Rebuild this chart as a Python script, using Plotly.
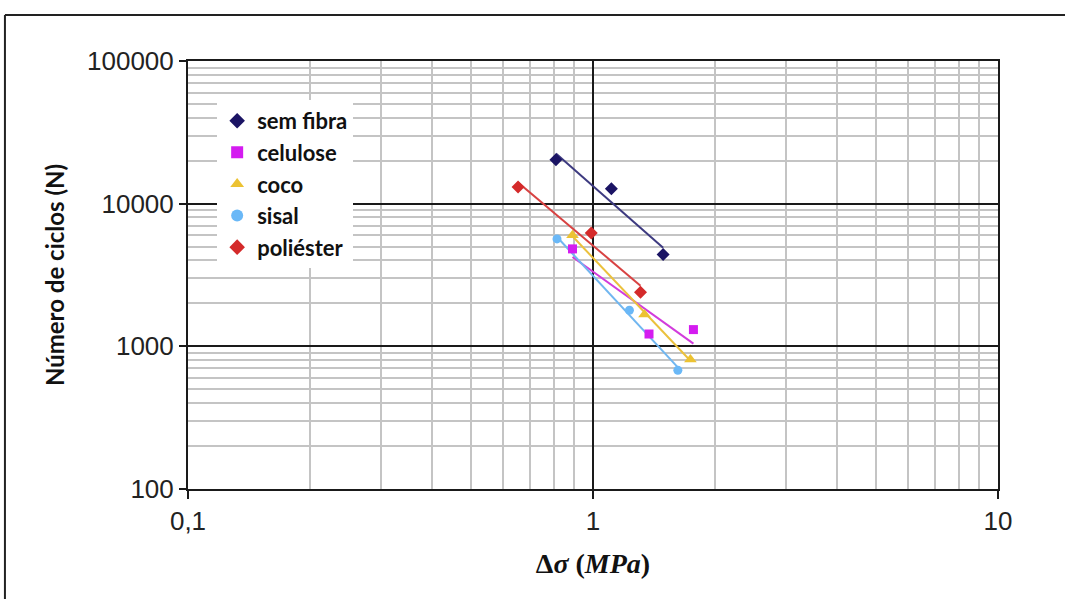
import numpy as np
import plotly.graph_objects as go

# Stress range (MPa) and cycles to failure for each fibre type
sem_fibra_ds = [0.81, 1.11, 1.49]
sem_fibra_n = [20300, 12700, 4400]

celulose_ds = [0.89, 1.375, 1.77]
celulose_n = [4820, 1220, 1310]

coco_ds = [0.89, 1.34, 1.74]
coco_n = [6000, 1670, 810]

sisal_ds = [0.815, 1.23, 1.62]
sisal_n = [5660, 1790, 680]

poliester_ds = [0.653, 0.99, 1.31]
poliester_n = [13100, 6230, 2390]

series_names = ["sem fibra", "celulose", "coco", "sisal", "poliéster"]
x_tick_vals = [0.1, 1, 10]
x_tick_text = ["0,1", "1", "10"]
y_tick_vals = [100, 1000, 10000, 100000]
y_tick_text = ["100", "1000", "10000", "100000"]

series_data = [sem_fibra_ds, celulose_ds, coco_ds, sisal_ds, poliester_ds]
series_cycles = [sem_fibra_n, celulose_n, coco_n, sisal_n, poliester_n]

marker_colors = ["#1b1464", "#d41cf0", "#ecc232", "#6ab8f7", "#d42a2a"]
line_colors = ["#3d3a80", "#d23cdc", "#ebc13c", "#70b6f0", "#d84242"]
symbols = ["diamond", "square", "triangle-up", "circle", "diamond"]
sizes = [10, 9, 11, 9, 10]

fig = go.Figure()

# Power-law trend lines (least squares in log-log space), behind the markers
for name, ds, n, lc in zip(series_names, series_data, series_cycles, line_colors):
    lx, ly = np.log10(ds), np.log10(n)
    b, a = np.polyfit(lx, ly, 1)
    xs = np.linspace(min(ds), max(ds), 2)
    ys = 10 ** (a + b * np.log10(xs))
    fig.add_trace(go.Scatter(x=xs, y=ys, mode="lines", showlegend=False,
                             line=dict(color=lc, width=2), hoverinfo="skip"))

for name, ds, n, mc, sym, sz in zip(series_names, series_data, series_cycles,
                                     marker_colors, symbols, sizes):
    fig.add_trace(go.Scatter(x=ds, y=n, mode="markers", name=name,
                             marker=dict(color=mc, symbol=sym, size=sz,
                                         line=dict(width=0))))

major = "#1a1a1a"
minor_grid = "#c4c4c4"

fig.update_xaxes(
    type="log", range=[-1, 1],
    tickvals=x_tick_vals, ticktext=x_tick_text,
    showgrid=True, gridcolor=major, gridwidth=1.5,
    minor=dict(dtick="D1", showgrid=True, gridcolor=minor_grid, gridwidth=2, ticks=""),
    showline=True, linecolor=major, linewidth=2, mirror=True,
    ticks="outside", ticklen=8, tickcolor=major, tickwidth=1.5,
    tickfont=dict(family="Liberation Sans", size=26, color="#222222"),
    title=dict(text="<b>Δ<i>σ</i> (<i>MPa</i>)</b>",
               font=dict(family="Liberation Serif", size=28, color="#111111"),
               standoff=18),
    zeroline=False,
)
fig.update_yaxes(
    type="log", range=[2, 5],
    tickvals=y_tick_vals, ticktext=y_tick_text,
    showgrid=True, gridcolor=major, gridwidth=1.5,
    minor=dict(dtick="D1", showgrid=True, gridcolor=minor_grid, gridwidth=2, ticks=""),
    showline=True, linecolor=major, linewidth=2, mirror=True,
    ticks="outside", ticklen=7, tickcolor=major, tickwidth=1.5,
    tickfont=dict(family="Liberation Sans", size=26, color="#222222"),
    title=dict(text="<b>Número de ciclos (N)</b>",
               font=dict(family="Lato", size=24, color="#111111"),
               standoff=16),
    zeroline=False,
)

fig.update_layout(
    width=1065, height=599,
    margin=dict(l=188, r=67, t=61, b=110, pad=0),
    paper_bgcolor="white", plot_bgcolor="white",
    legend=dict(x=0.036, y=0.909, xanchor="left", yanchor="top",
                bgcolor="white", borderwidth=0,
                font=dict(family="Lato", size=22, color="#111111", weight="bold"),
                itemsizing="constant"),
    showlegend=True,
)

# Outer frame around the chart
fig.add_shape(type="line", xref="paper", yref="paper",
              x0=-0.226, x1=1.1, y0=1.1075, y1=1.1075,
              line=dict(color="#222222", width=2))
fig.add_shape(type="line", xref="paper", yref="paper",
              x0=-0.226, x1=-0.226, y0=-0.3, y1=1.1075,
              line=dict(color="#222222", width=2))

fig.write_html("out.html")
